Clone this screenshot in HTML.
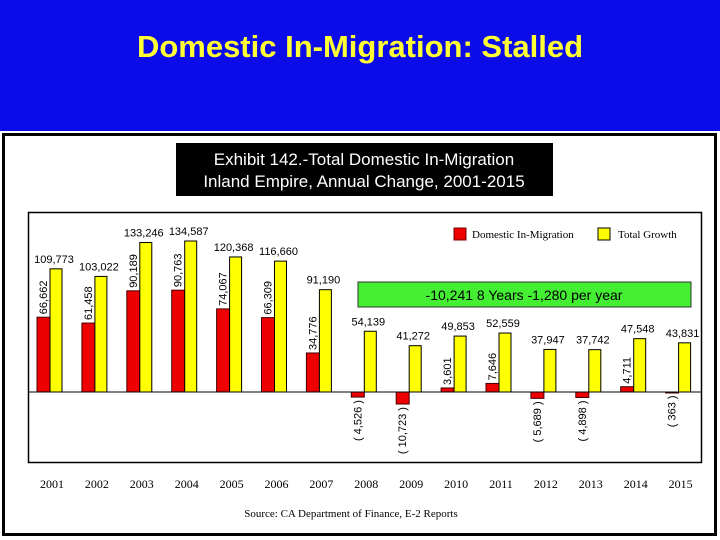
<!DOCTYPE html>
<html><head><meta charset="utf-8"><style>
html,body{margin:0;padding:0}
body{width:720px;height:540px;background:#0c0ce8;position:relative;overflow:hidden;font-family:"Liberation Sans",sans-serif}
</style></head><body>
<svg width="720" height="540" style="position:absolute;left:0;top:0">
<text x="360" y="57" text-anchor="middle" font-size="31" font-weight="bold" fill="#ffff33" font-family="Liberation Sans, sans-serif">Domestic In-Migration: Stalled</text>
<rect x="0" y="131" width="720" height="409" fill="#fff"/>
<rect x="3.5" y="134.5" width="712" height="400" fill="#fff" stroke="#000" stroke-width="3"/>
<rect x="176" y="143" width="377" height="53" fill="#000"/>
<text x="364" y="165" text-anchor="middle" font-size="17" fill="#fff">Exhibit 142.-Total  Domestic In-Migration</text>
<text x="364" y="187" text-anchor="middle" font-size="17" fill="#fff">Inland Empire, Annual Change, 2001-2015</text>
<rect x="28.5" y="212.5" width="673" height="250" fill="#fff" stroke="#000" stroke-width="1.5"/>
<g>
<rect x="454" y="228" width="12" height="12" fill="#e00" stroke="#700"/>
<text x="472" y="238" font-size="11" font-family="Liberation Serif, serif">Domestic In-Migration</text>
<rect x="598" y="228" width="12" height="12" fill="#ff0" stroke="#000"/>
<text x="618" y="238" font-size="11" font-family="Liberation Serif, serif">Total Growth</text>
</g>
<g id="bars"></g>
<rect x="358" y="282" width="333" height="25" fill="#44ee33" stroke="#333"/>
<text x="524" y="300" text-anchor="middle" font-size="14" fill="#000">-10,241 8 Years -1,280 per year</text>
<g id="xlabels"></g>
<text x="351" y="517" text-anchor="middle" font-size="11" font-family="Liberation Serif, serif">Source: CA Department of Finance, E-2 Reports</text>
</svg>
<script>
const years=["2001","2002","2003","2004","2005","2006","2007","2008","2009","2010","2011","2012","2013","2014","2015"];
const domestic=[66662,61458,90189,90763,74067,66309,34776,-4526,-10723,3601,7646,-5689,-4898,4711,-363];
const total=[109773,103022,133246,134587,120368,116660,91190,54139,41272,49853,52559,37947,37742,47548,43831];
const NS="http://www.w3.org/2000/svg";
const base=392,scale=151/134587;
function yv(v){return base-v*scale;}
function xc(i){return 50+i*44.9;}
function fmt(v){const s=Math.abs(v).toLocaleString("en-US");return v<0?"( "+s+" )":s;}
const g=document.getElementById("bars"),xl=document.getElementById("xlabels");
function mk(tag,attrs,parent){const e=document.createElementNS(NS,tag);for(const k in attrs)e.setAttribute(k,attrs[k]);parent.appendChild(e);return e;}
years.forEach((yr,i)=>{
 const c=xc(i);
 const d=domestic[i],t=total[i];
 const r=mk("rect",{x:c-13,y:Math.min(yv(d),base),width:13,height:Math.max(Math.abs(d)*scale,1),fill:"#ee0000",stroke:"#400",'stroke-width':1},g);
 
 
 const y2=mk("rect",{x:c,y:yv(t),width:12,height:t*scale,fill:"#ffff00",stroke:"#000",'stroke-width':1},g);
 
 
 const tl=mk("text",{x:c+4,y:yv(t)-6,'text-anchor':'middle','font-size':11},g);
 tl.textContent=fmt(t);
 
 
 const dl=mk("text",{'font-size':11},g);
 if(d>=0){dl.setAttribute('transform','translate('+(c-3)+','+(yv(d)-3)+') rotate(-90)');}
 else{dl.setAttribute('transform','translate('+(c-3)+','+(yv(d)+3)+') rotate(-90)');dl.setAttribute('text-anchor','end');}
 dl.textContent=fmt(d);
 
 
 const xt=mk("text",{x:c+2,y:488,'text-anchor':'middle','font-size':12,'font-family':'Liberation Serif, serif'},xl);
 xt.textContent=yr;
 
 
});
const ax=mk("line",{x1:28,x2:702,y1:base,y2:base,stroke:"#000",'stroke-width':1},g);


</script>
</body></html>
